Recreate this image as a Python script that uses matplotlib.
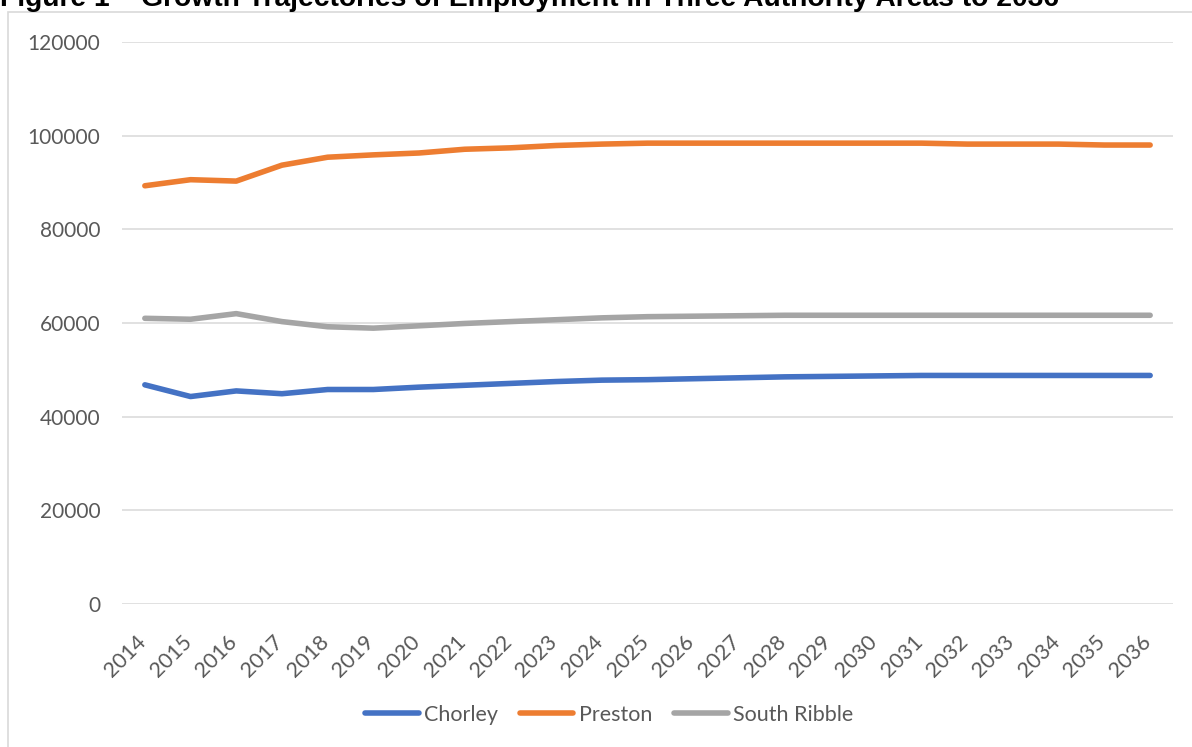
import matplotlib
matplotlib.use("Agg")
import matplotlib.pyplot as plt
from matplotlib.patches import Rectangle
from matplotlib.lines import Line2D
from matplotlib.transforms import ScaledTranslation

years = [str(y) for y in range(2014, 2037)]
chorley = [46800, 44300, 45500, 44900, 45800, 45800, 46300, 46700, 47100, 47500,
           47800, 47900, 48100, 48300, 48500, 48600, 48700, 48800, 48800, 48800,
           48800, 48800, 48800]
preston = [89300, 90600, 90300, 93700, 95400, 95900, 96300, 97100, 97400, 97900,
           98200, 98400, 98400, 98400, 98400, 98400, 98400, 98400, 98200, 98200,
           98200, 98000, 98000]
south_ribble = [61000, 60800, 62000, 60300, 59200, 58900, 59400, 59900, 60300, 60700,
                61100, 61350, 61450, 61550, 61650, 61650, 61650, 61650, 61650, 61650,
                61650, 61650, 61650]
series_names = ["Chorley", "Preston", "South Ribble"]
colors = ["#4472C4", "#ED7D31", "#A5A5A5"]
yticks = [0, 20000, 40000, 60000, 80000, 100000, 120000]
title = "Figure 1 \u2013 Growth Trajectories of Employment in Three Authority Areas to 2036"

W, H = 1192, 747
fig = plt.figure(figsize=(W / 100, H / 100), dpi=100)
fig.patch.set_facecolor("white")

# chart area border
fig.patches.append(Rectangle((8 / W, -0.2), 2.0, (1 - 12 / H) + 0.2,
                             transform=fig.transFigure, fill=False,
                             edgecolor="#d9d9d9", linewidth=1.2))

ax = fig.add_axes([122 / W, 1 - 604 / H, (1173 - 122) / W, (604 - 42) / H])
x = list(range(len(years)))
for vals, name, c in zip([chorley, preston, south_ribble], series_names, colors):
    ax.plot(x, vals, color=c, linewidth=4.0, solid_capstyle="round",
            solid_joinstyle="round", label=name, zorder=3)

ax.set_xlim(-0.5, len(years) - 0.5)
ax.set_ylim(0, 120000)
ax.set_yticks(yticks)
ax.set_yticklabels([str(v) for v in yticks])
ax.set_xticks(x)
ax.set_xticklabels(years, rotation=45, ha="right", va="top")
for s in ax.spines.values():
    s.set_visible(False)
ax.grid(axis="y", color="#d9d9d9", linewidth=1.1, zorder=0)
ax.tick_params(axis="both", length=0, labelcolor="#595959", labelsize=15)
ax.tick_params(axis="y", pad=15.5)
ax.tick_params(axis="x", labelsize=15.5, pad=20)
for lab in ax.get_yticklabels():
    lab.set_fontfamily("Lato")
shift = ScaledTranslation(5 / 100, 0, fig.dpi_scale_trans)
for lab in ax.get_xticklabels():
    lab.set_fontfamily("Lato")
    lab.set_transform(lab.get_transform() + shift)

handles = [Line2D([], [], color=c, linewidth=4.0, solid_capstyle="round") for c in colors]
leg = fig.legend(handles, series_names, loc="center", bbox_to_anchor=(609 / W, 1 - 715 / H),
                 ncol=3, frameon=False, handlelength=2.5, handletextpad=0.25,
                 columnspacing=1.0, prop={"family": "Lato", "size": 15.5})
for t in leg.get_texts():
    t.set_color("#595959")

fig.text(0 / W, 1 - 6 / H, title, ha="left", va="baseline", fontsize=20.3,
         fontweight="bold", family="Liberation Sans", color="black")

fig.savefig("out.png", dpi=100)
